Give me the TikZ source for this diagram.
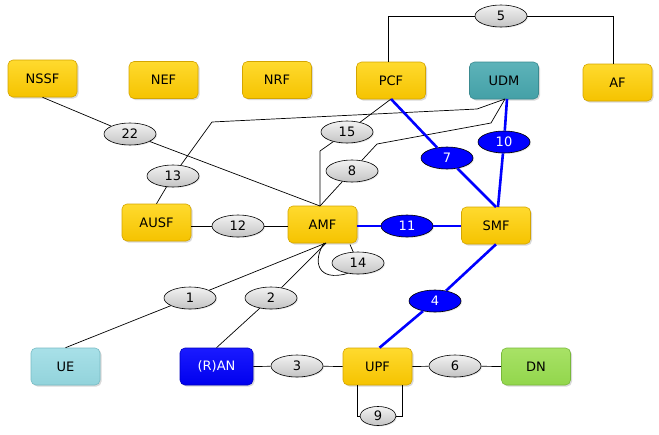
\documentclass[tikz,border=0pt]{standalone}
\usepackage{fontspec}
\setmainfont{DejaVu Sans}
\usetikzlibrary{shapes.geometric,shadows,calc}
\definecolor{yelT}{HTML}{FFDA2E}
\definecolor{yelBot}{HTML}{F5C300}
\definecolor{yelD}{HTML}{D4A500}
\definecolor{udmT}{HTML}{5DB3B9}
\definecolor{udmB}{HTML}{44A0A7}
\definecolor{udmD}{HTML}{3A8A90}
\definecolor{ueT}{HTML}{A8E0E8}
\definecolor{ueB}{HTML}{92D3DB}
\definecolor{ueD}{HTML}{78BBC4}
\definecolor{ranT}{HTML}{1A1AFF}
\definecolor{ranB}{HTML}{0000EE}
\definecolor{ranD}{HTML}{0000C0}
\definecolor{dnT}{HTML}{A8E266}
\definecolor{dnB}{HTML}{92D64C}
\definecolor{dnD}{HTML}{78B83A}
\definecolor{grT}{HTML}{F2F2F2}
\definecolor{grB}{HTML}{C4C4C4}
\definecolor{refblue}{HTML}{0000FF}
\begin{document}
\begin{tikzpicture}[x=1pt,y=-1pt,
  nf/.style={rounded corners=5pt, minimum width=69pt, minimum height=37pt, inner sep=0pt,
    line width=0.6pt, font=\fontsize{13}{15}\selectfont,
    drop shadow={shadow xshift=1.5pt,shadow yshift=-1.5pt,opacity=0.3}},
  yel/.style={nf, draw=yelD, top color=yelT, bottom color=yelBot},
  udmbox/.style={nf, draw=udmD, top color=udmT, bottom color=udmB},
  uebox/.style={nf, draw=ueD, top color=ueT, bottom color=ueB},
  ranbox/.style={nf, draw=ranD, top color=ranT, bottom color=ranB, text=white, minimum width=73pt},
  dnbox/.style={nf, draw=dnD, top color=dnT, bottom color=dnB},
  ref/.style={ellipse, draw=black, line width=0.6pt, minimum width=52pt, minimum height=22pt,
    inner sep=0pt, top color=grT, bottom color=grB, font=\fontsize{13}{15}\selectfont,
    drop shadow={shadow xshift=1pt,shadow yshift=-1pt,opacity=0.2}},
  bref/.style={ref, top color=refblue, bottom color=refblue, text=white},
  ln/.style={draw=black, line width=0.7pt},
  bl/.style={draw=refblue, line width=2.6pt}
]
\useasboundingbox (0,0) rectangle (659,434);
% network functions
\node[yel] (nssf) at (42.5,78.5) {NSSF};
\node[yel] (nef) at (163.5,80) {NEF};
\node[yel] (nrf) at (277,80) {NRF};
\node[yel] (pcf) at (391,80.5) {PCF};
\node[udmbox] (udm) at (504,80.5) {UDM};
\node[yel] (af) at (617.5,82.5) {AF};
\node[yel] (ausf) at (156.5,222.5) {AUSF};
\node[yel] (amf) at (322.5,224.5) {AMF};
\node[yel] (smf) at (496,225.5) {SMF};
\node[uebox] (ue) at (65.5,366.5) {UE};
\node[ranbox] (ran) at (216.5,366.5) {(R)AN};
\node[yel] (upf) at (377.5,366.5) {UPF};
\node[dnbox] (dn) at (536,366.5) {DN};
% reference points
\node[ref] (e5) at (501,16) {5};
\node[ref] (e22) at (130,134) {22};
\node[ref] (e13) at (173,176) {13};
\node[ref] (e15) at (347,132) {15};
\node[ref] (e8) at (352,171) {8};
\node[bref] (e7) at (447,158) {7};
\node[bref] (e10) at (504,142) {10};
\node[ref] (e12) at (238,226) {12};
\node[bref] (e11) at (407,226) {11};
\node[ref] (e14) at (358,263) {14};
\node[ref] (e1) at (190,298) {1};
\node[ref] (e2) at (271,298) {2};
\node[bref] (e4) at (435,301) {4};
\node[ref] (e3) at (297,366) {3};
\node[ref] (e6) at (455,366) {6};
\node[ref, minimum width=36pt, minimum height=19pt] (e9) at (378,416) {9};
% waypoints
\coordinate (pcfT) at (388,62);
\coordinate (afT) at (613,64);
\coordinate (amfT) at (320,206);
\coordinate (amfB) at (326,243);
\coordinate (k15) at (320,151);
\coordinate (k8a) at (377,144);
\coordinate (k8b) at (491,123);
\coordinate (k13a) at (212,122);
\coordinate (k13b) at (477,109);
\coordinate (udmB) at (505,99);
\coordinate (udmB2) at (507,99);
\coordinate (pcfB) at (391,99);
\coordinate (smfT) at (496,207);
\coordinate (smfT2) at (498,207);
\coordinate (c14a) at (324,243);
\coordinate (c14b) at (350,244.5);
\coordinate (upfL) at (357,385);
\coordinate (upfR) at (402,385);
% connectors
\draw[ln] (pcfT) |- (e5);
\draw[ln] (e5) -| (afT);
\draw[ln] (nssf.south) -- (e22) -- (amfT);
\draw[ln] (ausf.north) -- (e13) -- (k13a) -- (k13b) -- (udmB);
\draw[ln] (amfT) -- (k15) -- (e15) -- (pcfB);
\draw[ln] (amfT) -- (e8) -- (k8a) -- (k8b) -- (udmB);
\draw[bl] (pcfB) -- (e7) -- (smfT);
\draw[bl] (udmB2) -- (e10) -- (smfT2);
\draw[ln] (ausf.east |- e12) -- (e12) -- (amf.west |- e12);
\draw[bl] (amf.east |- e11) -- (e11) -- (smf.west |- e11);
\draw[ln] (c14a) .. controls (312,262) and (318,282) .. (e14.225);
\draw[ln] (c14b) -- (e14);
\draw[ln] (amfB) -- (e1) -- (ue.north);
\draw[ln] (amfB) -- (e2) -- (ran.north);
\draw[bl] (smf.south) -- (e4) -- ($(upf.north)+(2,0)$);
\draw[ln] (ran.east) -- (e3) -- (upf.west);
\draw[ln] (upf.east) -- (e6) -- (dn.west);
\draw[ln] (upfL) |- (e9);
\draw[ln] (e9) -| (upfR);
\end{tikzpicture}
\end{document}
